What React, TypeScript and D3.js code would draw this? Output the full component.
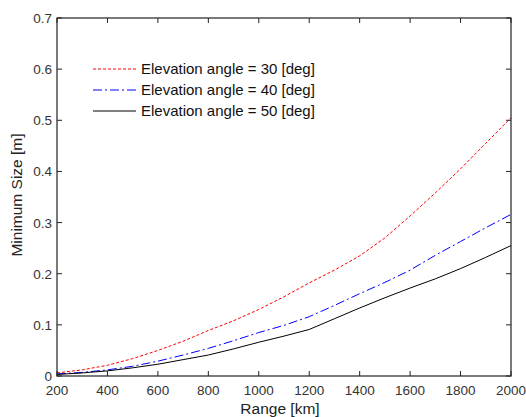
import React from "react";
import * as d3 from "d3";

const ranges = [200, 300, 400, 500, 600, 700, 800, 900, 1000, 1100, 1200, 1300, 1400, 1500, 1600, 1700, 1800, 1900, 2000];
const elev30 = [0.006, 0.012, 0.021, 0.034, 0.05, 0.068, 0.089, 0.108, 0.13, 0.155, 0.182, 0.207, 0.235, 0.27, 0.313, 0.358, 0.405, 0.455, 0.505];
const elev40 = [0.004, 0.007, 0.012, 0.019, 0.029, 0.041, 0.054, 0.069, 0.085, 0.099, 0.116, 0.138, 0.161, 0.183, 0.207, 0.236, 0.263, 0.29, 0.316];
const elev50 = [0.003, 0.006, 0.01, 0.016, 0.023, 0.032, 0.041, 0.053, 0.066, 0.078, 0.091, 0.112, 0.133, 0.153, 0.172, 0.19, 0.21, 0.232, 0.255];
const xTicks = [200, 400, 600, 800, 1000, 1200, 1400, 1600, 1800, 2000];
const yTicks = [0, 0.1, 0.2, 0.3, 0.4, 0.5, 0.6, 0.7];
const legendLabels = ["Elevation angle = 30 [deg]", "Elevation angle = 40 [deg]", "Elevation angle = 50 [deg]"];

const W = 526, H = 417;
const L = 57, R = 511, T = 18, B = 376;
const font = "'Liberation Sans', Arial, sans-serif";

export default function App() {
  const x = d3.scaleLinear().domain([200, 2000]).range([L, R]);
  const y = d3.scaleLinear().domain([0, 0.7]).range([B, T]);
  const line = d3.line<number>().x((_, i) => x(ranges[i])).y((d) => y(d));
  const series = [
    { data: elev30, color: "#ff0000", dash: "3,2", label: legendLabels[0] },
    { data: elev40, color: "#0000ff", dash: "9,3,2,3", label: legendLabels[1] },
    { data: elev50, color: "#000000", dash: "none", label: legendLabels[2] },
  ];
  const tl = 5;
  return (
    <svg width={W} height={H} style={{ position: "absolute", left: 0, top: 0 }}>
      <rect x={0} y={0} width={W} height={H} fill="#fff" />
      {series.map((s, i) => (
        <path key={i} d={line(s.data) || ""} fill="none" stroke={s.color} strokeWidth={1} strokeDasharray={s.dash} />
      ))}
      <rect x={L} y={T} width={R - L} height={B - T} fill="none" stroke="#222" strokeWidth={1.2} />
      {xTicks.map((t) => (
        <g key={"x" + t}>
          <line x1={x(t)} x2={x(t)} y1={B} y2={B - tl} stroke="#222" />
          <line x1={x(t)} x2={x(t)} y1={T} y2={T + tl} stroke="#222" />
          <text x={x(t)} y={395} textAnchor="middle" fontFamily={font} fontSize={13.5} fill="#333">{t}</text>
        </g>
      ))}
      {yTicks.map((t) => (
        <g key={"y" + t}>
          <line x1={L} x2={L + tl} y1={y(t)} y2={y(t)} stroke="#222" />
          <line x1={R} x2={R - tl} y1={y(t)} y2={y(t)} stroke="#222" />
          <text x={52} y={y(t) + 5} textAnchor="end" fontFamily={font} fontSize={13.5} fill="#333">{t === 0 ? "0" : t.toFixed(1)}</text>
        </g>
      ))}
      <text x={280} y={414} textAnchor="middle" fontFamily={font} fontSize={15.5} fill="#222">Range [km]</text>
      <text transform={`translate(22,195) rotate(-90)`} textAnchor="middle" fontFamily={font} fontSize={15.5} fill="#222">Minimum Size [m]</text>
      {series.map((s, i) => (
        <g key={"l" + i}>
          <line x1={93} x2={136} y1={69 + i * 21} y2={69 + i * 21} stroke={s.color} strokeWidth={1} strokeDasharray={s.dash} />
          <text x={141} y={69 + i * 21 + 5} fontFamily={font} fontSize={15} fill="#111">{s.label}</text>
        </g>
      ))}
    </svg>
  );
}
